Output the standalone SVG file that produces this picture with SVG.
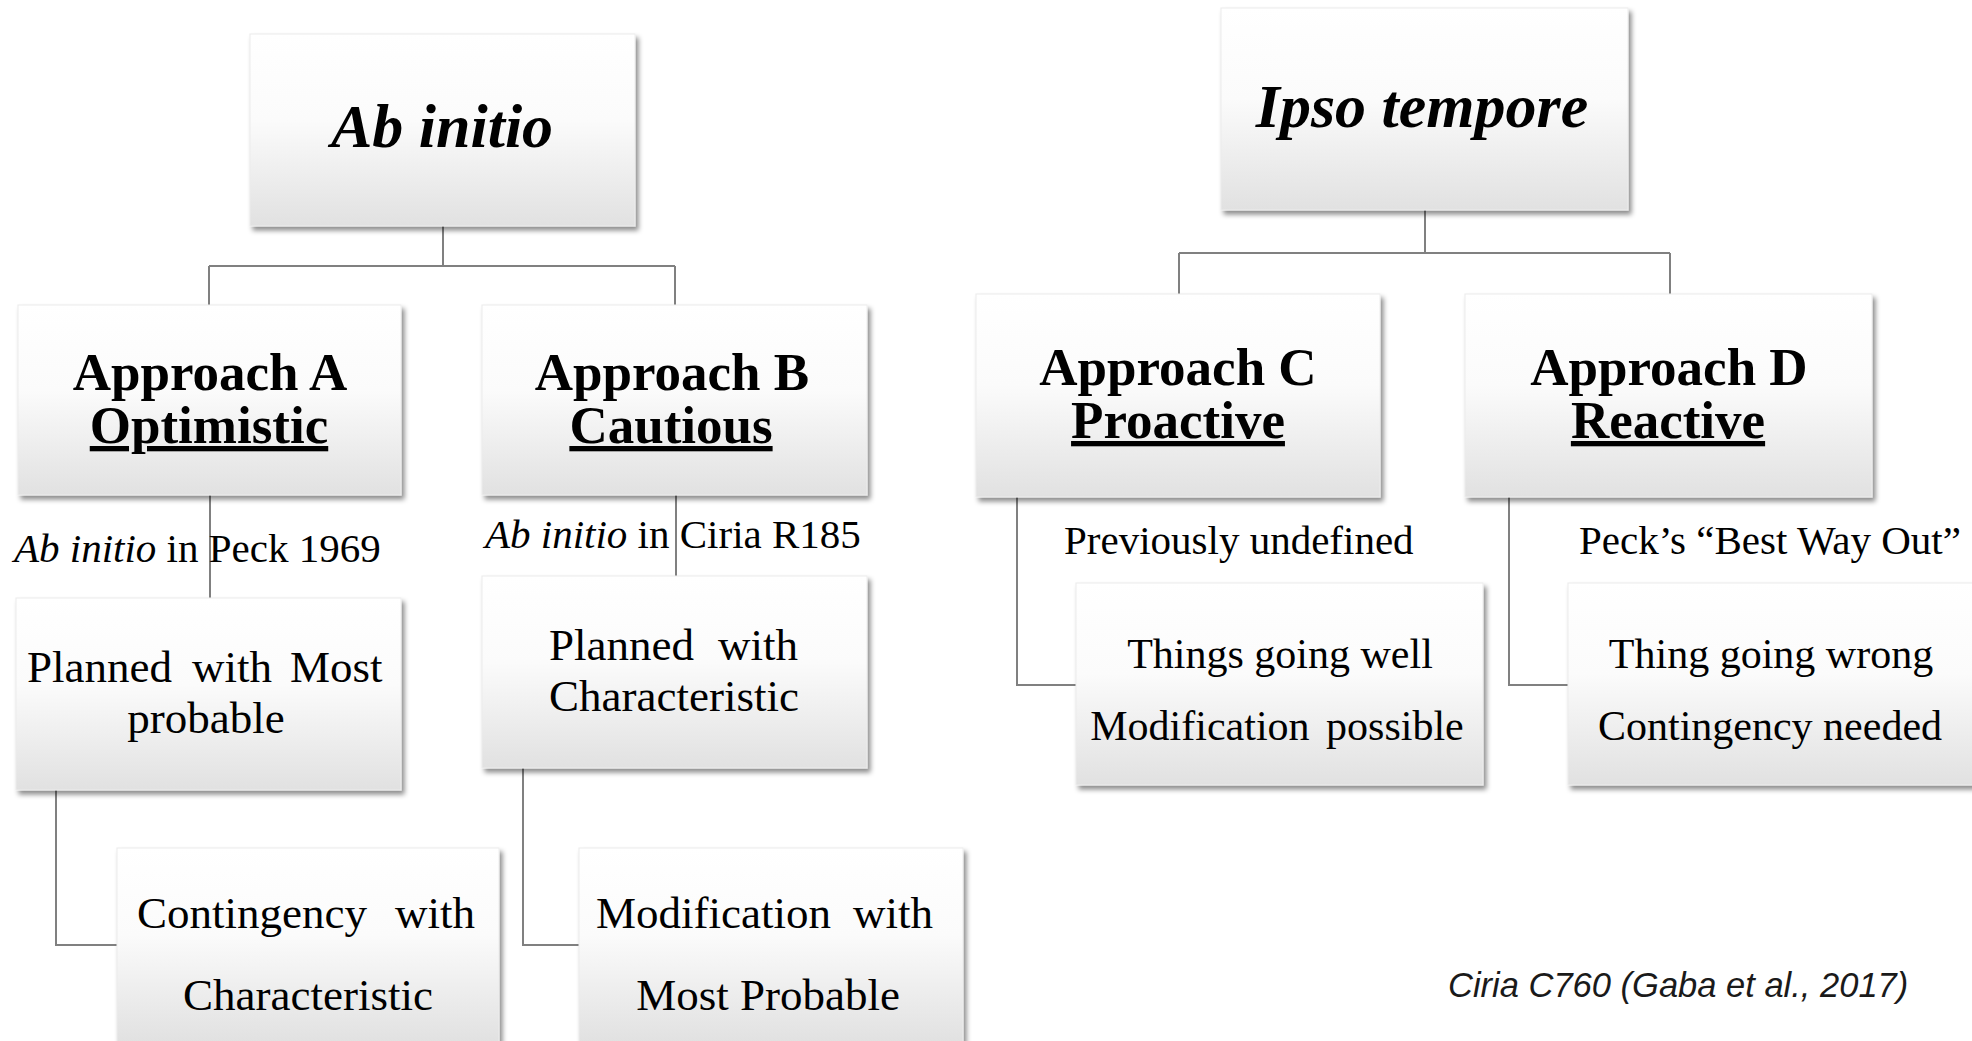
<svg xmlns="http://www.w3.org/2000/svg" width="1972" height="1041" viewBox="0 0 1972 1041">
  <defs>
    <linearGradient id="boxFill" x1="0" y1="0" x2="0" y2="1">
      <stop offset="0" stop-color="#ffffff"/>
      <stop offset="0.45" stop-color="#fbfbfb"/>
      <stop offset="1" stop-color="#e1e1e1"/>
    </linearGradient>
    <filter id="shadow" x="-10%" y="-10%" width="125%" height="130%">
      <feDropShadow dx="3" dy="4" stdDeviation="2.5" flood-color="#000" flood-opacity="0.45"/>
    </filter>
  </defs>
  <style>
    .box { fill: url(#boxFill); stroke: #ececec; stroke-width: 1; filter: url(#shadow); }
    .link { fill: none; stroke: #808080; stroke-width: 2; }
    .serif { font-family: "Liberation Serif", "Times New Roman", serif; fill: #000; }
    .title { font-size: 62px; font-weight: bold; font-style: italic; text-anchor: middle; }
    .head { font-size: 53px; font-weight: bold; text-anchor: middle; }
    .uline { text-decoration: underline; }
    .body { font-size: 45px; }
    .bodyR { font-size: 42px; text-anchor: middle; }
    .label { font-size: 41px; }
    .caption { font-family: "Liberation Sans", Arial, sans-serif; font-size: 34.5px; font-style: italic; fill: #1a1a1a; }
  </style>

  <rect width="1972" height="1041" fill="#ffffff"/>

  <!-- tree connectors -->
  <g id="connectors">
    <path class="link" d="M443,226 V266 M209,266 H675 M209,266 V305 M675,266 V305"/>
    <path class="link" d="M1425,210 V253 M1179,253 H1670 M1179,253 V294 M1670,253 V294"/>
    <path class="link" d="M210,495 V598"/>
    <path class="link" d="M676,495 V576"/>
    <path class="link" d="M56,790 V945 H117"/>
    <path class="link" d="M523,768 V945 H579"/>
    <path class="link" d="M1017,497 V685 H1076"/>
    <path class="link" d="M1509,497 V685 H1568"/>
  </g>

  <!-- connector labels -->
  <g id="labels" class="serif label">
    <text x="14" y="562"><tspan font-style="italic">Ab initio</tspan> in Peck 1969</text>
    <text x="485" y="548"><tspan font-style="italic">Ab initio</tspan> in Ciria R185</text>
    <text x="1064" y="554">Previously undefined</text>
    <text x="1579" y="554">Peck’s “Best Way Out”</text>
  </g>

  <g id="ab-initio">
    <rect class="box" x="250" y="34" width="385" height="192"/>
    <text class="serif title" x="442" y="147">Ab initio</text>
  </g>

  <g id="ipso-tempore">
    <rect class="box" x="1221" y="8" width="407" height="202"/>
    <text class="serif title" x="1422" y="127">Ipso tempore</text>
  </g>

  <g id="approach-a">
    <rect class="box" x="18" y="305" width="383" height="190"/>
    <text class="serif head" x="210" y="390">Approach A</text>
    <text class="serif head uline" x="209" y="443">Optimistic</text>
  </g>

  <g id="approach-b">
    <rect class="box" x="482" y="305" width="385" height="190"/>
    <text class="serif head" x="672" y="390">Approach B</text>
    <text class="serif head uline" x="671" y="443">Cautious</text>
  </g>

  <g id="approach-c">
    <rect class="box" x="976" y="294" width="404" height="203"/>
    <text class="serif head" x="1178" y="385">Approach C</text>
    <text class="serif head uline" x="1178" y="438">Proactive</text>
  </g>

  <g id="approach-d">
    <rect class="box" x="1465" y="294" width="407" height="203"/>
    <text class="serif head" x="1669" y="385">Approach D</text>
    <text class="serif head uline" x="1668" y="438">Reactive</text>
  </g>

  <g id="planned-most-probable">
    <rect class="box" x="16" y="598" width="385" height="192"/>
    <text class="serif body" y="682"><tspan x="27">Planned</tspan><tspan x="192">with</tspan><tspan x="290">Most</tspan></text>
    <text class="serif body" x="206" y="733" text-anchor="middle">probable</text>
  </g>

  <g id="planned-characteristic">
    <rect class="box" x="482" y="576" width="385" height="192"/>
    <text class="serif body" y="660"><tspan x="549">Planned</tspan><tspan x="718">with</tspan></text>
    <text class="serif body" x="674" y="711" text-anchor="middle">Characteristic</text>
  </g>

  <g id="contingency-characteristic">
    <rect class="box" x="117" y="848" width="382" height="194"/>
    <text class="serif body" y="928"><tspan x="137">Contingency</tspan><tspan x="395">with</tspan></text>
    <text class="serif body" x="308" y="1010" text-anchor="middle">Characteristic</text>
  </g>

  <g id="modification-most-probable">
    <rect class="box" x="579" y="848" width="384" height="194"/>
    <text class="serif body" y="928"><tspan x="596">Modification</tspan><tspan x="853">with</tspan></text>
    <text class="serif body" x="768" y="1010" text-anchor="middle">Most Probable</text>
  </g>

  <g id="things-going-well">
    <rect class="box" x="1076" y="583" width="407" height="202"/>
    <text class="serif bodyR" x="1280" y="668">Things going well</text>
    <text class="serif bodyR" x="1277" y="740" word-spacing="6">Modification possible</text>
  </g>

  <g id="thing-going-wrong">
    <rect class="box" x="1568" y="583" width="407" height="202"/>
    <text class="serif bodyR" x="1771" y="668">Thing going wrong</text>
    <text class="serif bodyR" x="1770" y="740">Contingency needed</text>
  </g>

  <text class="caption" x="1448" y="997">Ciria C760 (Gaba et al., 2017)</text>
</svg>
